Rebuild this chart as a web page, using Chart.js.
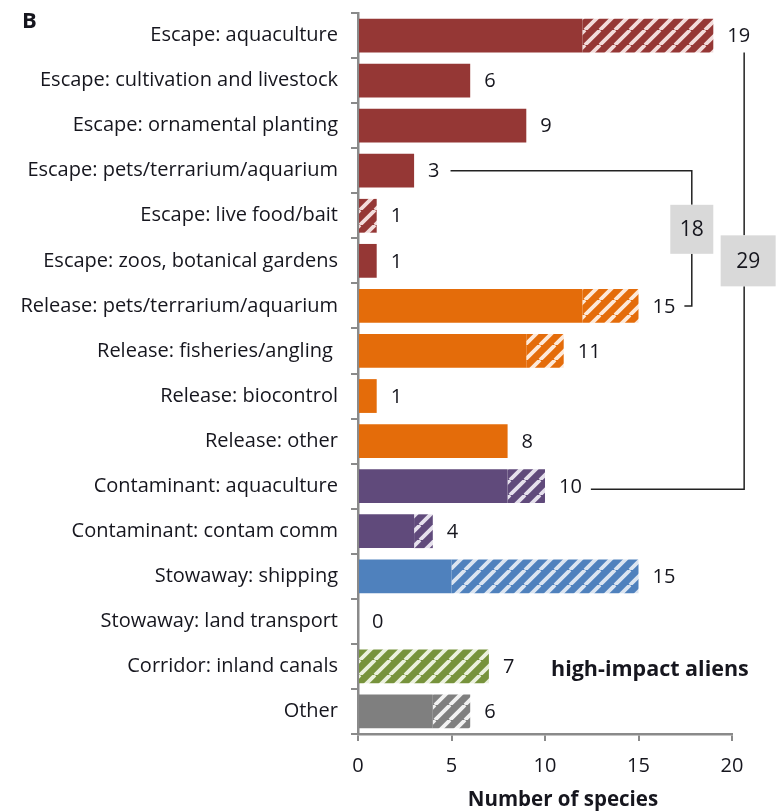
<!DOCTYPE html>
<html>
<head>
<meta charset="utf-8">
<script src="https://cdn.jsdelivr.net/npm/chart.js@4.4.1/dist/chart.umd.min.js"></script>
<style>
  html, body { margin: 0; padding: 0; background: #fff; }
  #wrap { width: 778px; height: 811px; }
</style>
</head>
<body>
<div id="wrap"><canvas id="pathways" width="778" height="811"></canvas></div>
<script>
const categories = [
    'Escape: aquaculture',
    'Escape: cultivation and livestock',
    'Escape: ornamental planting',
    'Escape: pets/terrarium/aquarium',
    'Escape: live food/bait',
    'Escape: zoos, botanical gardens',
    'Release: pets/terrarium/aquarium',
    'Release: fisheries/angling ',
    'Release: biocontrol',
    'Release: other',
    'Contaminant: aquaculture',
    'Contaminant: contam comm',
    'Stowaway: shipping',
    'Stowaway: land transport',
    'Corridor: inland canals',
    'Other'
];
// solid part and hatched part of each bar
const solidCounts   = [12, 6, 9, 3, 0, 1, 12, 9, 1, 8, 8, 3, 5, 0, 0, 4];
const hatchedCounts = [7, 0, 0, 0, 1, 0, 3, 2, 0, 0, 2, 1, 10, 0, 7, 2];
const xTicks = [0, 5, 10, 15, 20];
// bracketed sums: [first row, last row, shown total]
const brackets = [[3, 6, 18], [0, 10, 29]];

const totals = solidCounts.map((v, i) => v + hatchedCounts[i]);

const FONT = "'Open Sans', sans-serif";
const TEXT = '#16161e';
const AXIS = '#8a8a8a';
const LABEL_SIZE = 20;

const palette = {
    Escape:      { fill: '#953735', stripe: '#f2dcdb' },
    Release:     { fill: '#e46c0a', stripe: '#fde9d9' },
    Contaminant: { fill: '#604a7b', stripe: '#e5e0ec' },
    Stowaway:    { fill: '#4f81bd', stripe: '#dbe5f1' },
    Corridor:    { fill: '#77933c', stripe: '#ebf1de' },
    Other:       { fill: '#7f7f7f', stripe: '#f2f2f2' }
};

const ctx = document.getElementById('pathways').getContext('2d');

function makeHatch(fill, stripe) {
    const s = 15;
    const tile = document.createElement('canvas');
    tile.width = s;
    tile.height = s;
    const t = tile.getContext('2d');
    t.fillStyle = fill;
    t.fillRect(0, 0, s, s);
    t.strokeStyle = stripe;
    t.lineWidth = 3.8;
    t.beginPath();
    [-s, 0, s].forEach(k => {
        t.moveTo(k, s);
        t.lineTo(k + s, 0);
    });
    t.stroke();
    return ctx.createPattern(tile, 'repeat');
}

const groupOf = label => label.split(':')[0];
const solidColors = categories.map(c => palette[groupOf(c)].fill);
const hatchColors = categories.map(c => {
    const p = palette[groupOf(c)];
    return makeHatch(p.fill, p.stripe);
});

function textEnd(chartCtx, value, x) {
    chartCtx.font = `${LABEL_SIZE}px ${FONT}`;
    return x + chartCtx.measureText(String(value)).width;
}

const annotations = {
    id: 'annotations',
    afterDraw(chart) {
        const { ctx: c, scales: { x, y } } = chart;
        c.save();

        // totals at the end of each bar
        c.font = `${LABEL_SIZE}px ${FONT}`;
        c.fillStyle = TEXT;
        c.textBaseline = 'middle';
        c.textAlign = 'left';
        const labelX = totals.map(v => x.getPixelForValue(v) + 14);
        totals.forEach((v, i) => c.fillText(String(v), labelX[i], y.getPixelForValue(i) + 1));

        // brackets joining rows to a summed box
        const drawBox = (cx, cy, w, h, text) => {
            c.fillStyle = '#d9d9d9';
            c.fillRect(cx - w / 2, cy - h / 2, w, h);
            c.fillStyle = TEXT;
            c.font = `21px ${FONT}`;
            c.textAlign = 'center';
            c.fillText(text, cx, cy + 1);
        };
        c.strokeStyle = '#222';
        c.lineWidth = 1.5;

        // 18: pets/terrarium/aquarium escape + release
        {
            const [a, b, sum] = brackets[0];
            const bx = x.getPixelForValue(17.85);
            const ya = y.getPixelForValue(a);
            const yb = y.getPixelForValue(b);
            const by = y.getPixelForValue(4.3);
            const h = 49;
            c.beginPath();
            c.moveTo(textEnd(c, totals[a], labelX[a]) + 11, ya);
            c.lineTo(bx, ya);
            c.lineTo(bx, by - h / 2);
            c.moveTo(bx, by + h / 2);
            c.lineTo(bx, yb);
            c.lineTo(textEnd(c, totals[b], labelX[b]) + 9, yb);
            c.stroke();
            drawBox(bx, by, 43, h, String(sum));
        }

        // 29: all aquaculture-related rows
        {
            const [a, b, sum] = brackets[1];
            const bx = x.getPixelForValue(20.65);
            const ya = y.getPixelForValue(a) + 17;
            const yb = y.getPixelForValue(b) + 3;
            const by = y.getPixelForValue(5);
            const h = 51;
            c.beginPath();
            c.moveTo(bx, ya);
            c.lineTo(bx, by - h / 2);
            c.moveTo(bx, by + h / 2);
            c.lineTo(bx, yb);
            c.lineTo(textEnd(c, totals[b], labelX[b]) + 9, yb);
            c.stroke();
            drawBox(bx + 4, by, 55, h, String(sum));
        }

        // panel letter, note and axis title
        c.fillStyle = TEXT;
        c.textAlign = 'left';
        c.textBaseline = 'alphabetic';
        c.font = `bold 22px ${FONT}`;
        c.fillText('B', 22, 28);
        c.font = `bold 21.5px ${FONT}`;
        c.fillText('high-impact aliens', 551, 676);
        c.font = `bold 20.5px ${FONT}`;
        c.textAlign = 'center';
        c.fillText('Number of species', 563, 806);

        c.restore();
    }
};

new Chart(ctx, {
    type: 'bar',
    data: {
        labels: categories,
        datasets: [
            { label: 'solid', data: solidCounts, backgroundColor: solidColors },
            { label: 'hatched', data: hatchedCounts, backgroundColor: hatchColors }
        ]
    },
    options: {
        indexAxis: 'y',
        responsive: false,
        animation: false,
        barPercentage: 0.75,
        categoryPercentage: 1,
        layout: { padding: { top: 13, right: 46, left: 0, bottom: 0 } },
        plugins: {
            legend: { display: false },
            tooltip: { enabled: false }
        },
        scales: {
            x: {
                stacked: true,
                min: 0,
                max: 20,
                afterBuildTicks: scale => { scale.ticks = xTicks.map(v => ({ value: v })); },
                grid: { drawOnChartArea: false, tickLength: 7, color: AXIS, lineWidth: 2 },
                border: { color: AXIS, width: 2.5 },
                ticks: { color: TEXT, font: { family: FONT, size: LABEL_SIZE }, padding: 13 },
                afterFit: scale => { scale.height = 77; }
            },
            y: {
                stacked: true,
                grid: { offset: true, drawOnChartArea: false, tickLength: 7, color: AXIS, lineWidth: 2 },
                border: { color: AXIS, width: 2.5 },
                ticks: { color: TEXT, font: { family: FONT, size: LABEL_SIZE }, padding: 13, autoSkip: false },
                afterFit: scale => {
                    scale.width = 358;
                    scale.paddingTop = 0;
                    scale.paddingBottom = 0;
                }
            }
        }
    },
    plugins: [annotations]
});
</script>
</body>
</html>
